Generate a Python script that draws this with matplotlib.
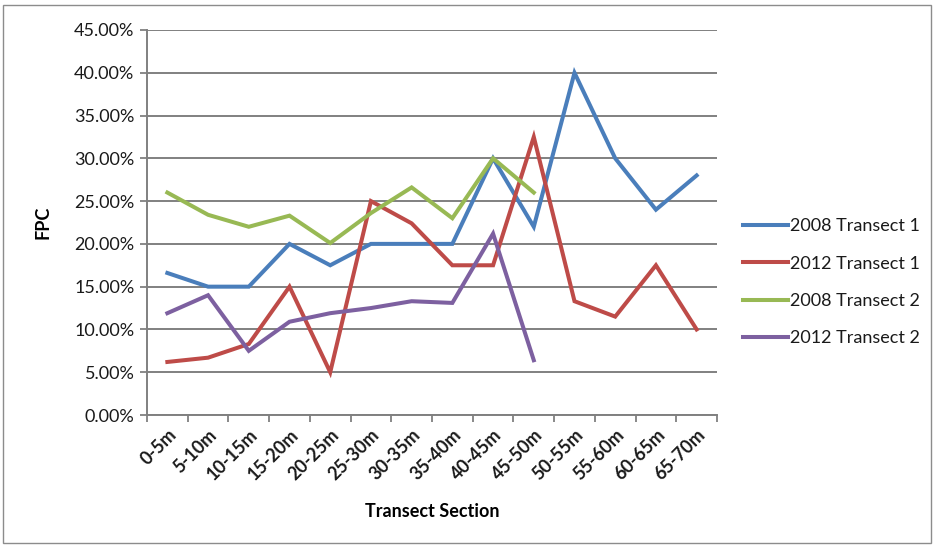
import matplotlib
matplotlib.use("Agg")
import matplotlib.pyplot as plt
from matplotlib.ticker import FuncFormatter, FixedLocator
from matplotlib.patches import Rectangle
import numpy as np

plt.rcParams['font.family'] = ['Lato', 'DejaVu Sans']
plt.rcParams['text.color'] = '#1a1a1a'
plt.rcParams['xtick.color'] = '#1a1a1a'
plt.rcParams['ytick.color'] = '#1a1a1a'

categories = ["0-5m", "5-10m", "10-15m", "15-20m", "20-25m", "25-30m", "30-35m",
              "35-40m", "40-45m", "45-50m", "50-55m", "55-60m", "60-65m", "65-70m"]
t1_2008 = [16.6, 15.0, 15.0, 20.0, 17.5, 20.0, 20.0, 20.0, 30.0, 22.0, 40.0, 30.0, 24.0, 28.0]
t1_2012 = [6.2, 6.7, 8.3, 15.0, 5.0, 25.0, 22.4, 17.5, 17.5, 32.5, 13.3, 11.5, 17.5, 10.0]
t2_2008 = [26.0, 23.4, 22.0, 23.3, 20.1, 23.6, 26.6, 23.0, 30.0, 26.0]
t2_2012 = [11.9, 14.0, 7.5, 10.9, 11.9, 12.5, 13.3, 13.1, 21.2, 6.4]

series = [
    ("2008 Transect 1", t1_2008, "#4A7EBB"),
    ("2012 Transect 1", t1_2012, "#BE4B48"),
    ("2008 Transect 2", t2_2008, "#98B954"),
    ("2012 Transect 2", t2_2012, "#7D60A0"),
]

FS = 13

fig = plt.figure(figsize=(9.36, 5.46), dpi=100)
ax = fig.add_axes([147/936, 1-415/546, (717-147)/936, (415-30)/546])

x = np.arange(len(categories))
for name, vals, col in series:
    ax.plot(x[:len(vals)], vals, color=col, lw=2.9, label=name, solid_joinstyle='miter', zorder=3)

ax.set_xlim(-0.5, len(categories) - 0.5)
ax.set_ylim(0, 45)
ax.set_yticks(np.arange(0, 46, 5))
ax.yaxis.set_major_formatter(FuncFormatter(lambda v, p: f"{v:.2f}%"))
ax.grid(axis='y', color='#808080', lw=1.4, zorder=0)
ax.set_axisbelow(True)

ax.set_xticks(x)
ax.set_xticklabels(categories, rotation=45, ha='right', rotation_mode='anchor',
                   fontsize=FS, fontweight='bold')
ax.xaxis.set_minor_locator(FixedLocator(np.arange(-0.5, len(categories), 1)))
ax.tick_params(axis='x', which='major', length=0, pad=8)
ax.tick_params(axis='x', which='minor', length=5, color='#808080', width=1.3)
ax.tick_params(axis='y', length=5, color='#808080', width=1.3, labelsize=FS, pad=4)

for s in ['top', 'right']:
    ax.spines[s].set_visible(False)
for s in ['left', 'bottom']:
    ax.spines[s].set_color('#808080')
    ax.spines[s].set_linewidth(1.4)

ax.set_ylabel("FPC", fontsize=FS, fontweight='bold', labelpad=16)
ax.set_xlabel("Transect Section", fontsize=FS, fontweight='bold', labelpad=14)

leg = fig.legend(loc='upper left', bbox_to_anchor=(727/936, 1-202/546), frameon=False,
                 fontsize=FS, handlelength=2.5, handletextpad=0.1, labelspacing=1.18)

fig.add_artist(Rectangle((3/936, 3/546), 928/936, 538/546, transform=fig.transFigure,
                         fill=False, edgecolor='#8c8c8c', lw=1.0))

fig.savefig("out.png", dpi=100)
